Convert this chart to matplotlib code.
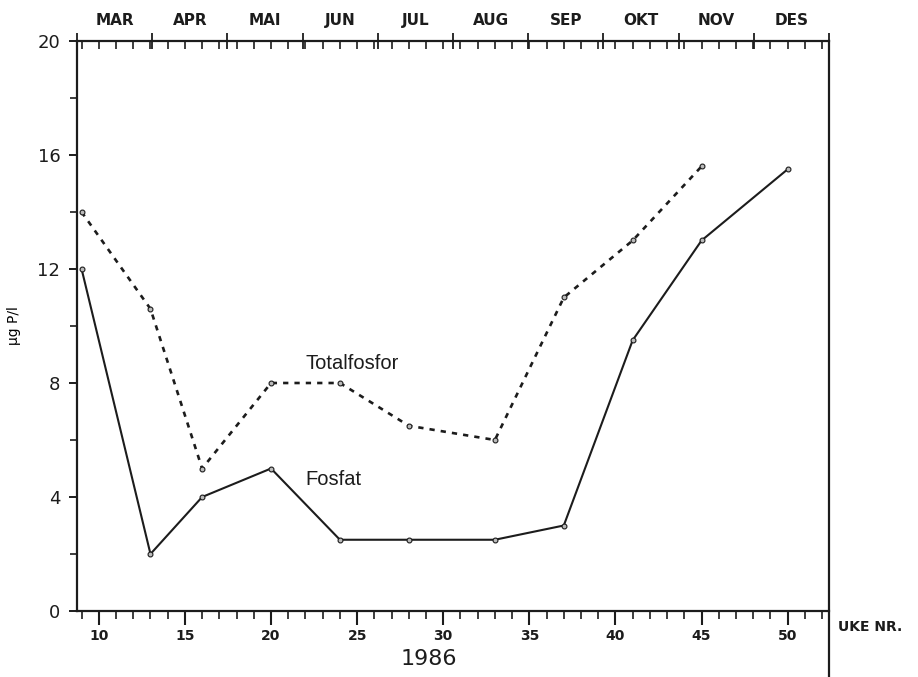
import matplotlib
matplotlib.use("Agg")
import matplotlib.pyplot as plt
from matplotlib.ticker import MultipleLocator, FixedLocator

# data (week number, ug P/l)
fosfat_uke = [9, 13, 16, 20, 24, 28, 33, 37, 41, 45, 50]
fosfat = [12, 2, 4, 5, 2.5, 2.5, 2.5, 3, 9.5, 13, 15.5]

totp_uke = [9, 13, 16, 20, 24, 28, 33, 37, 41, 45]
totp = [14, 10.6, 5, 8, 8, 6.5, 6, 11, 13, 15.6]

maaneder = ["MAR", "APR", "MAI", "JUN", "JUL", "AUG", "SEP", "OKT", "NOV", "DES"]
uker_per_mnd = 52.4 / 12.0

ink = "#1c1c1c"

fig = plt.figure(figsize=(9.18, 6.77), dpi=100, facecolor="white")
ax = fig.add_axes([77 / 918, 1 - 611 / 677, 752 / 918, 570 / 677])

ax.plot(fosfat_uke, fosfat, color=ink, lw=1.5, marker="o", ms=3.5,
        mfc="#bbbbbb", mec=ink, mew=0.8)
ax.plot(totp_uke, totp, color=ink, lw=1.9, ls=(0, (2.0, 2.3)), marker="o",
        ms=3.5, mfc="#bbbbbb", mec=ink, mew=0.8)

xmin = 2 * uker_per_mnd
xmax = 12 * uker_per_mnd
ax.set_xlim(xmin, xmax)
ax.set_ylim(0, 20)

for s in ["left", "bottom", "top"]:
    ax.spines[s].set_linewidth(1.6)
    ax.spines[s].set_color(ink)
ax.spines["right"].set_visible(False)
# right border runs down to the bottom edge of the page
ax.plot([1, 1], [1, -0.12], transform=ax.transAxes, color=ink, lw=1.6,
        clip_on=False)

# bottom axis: week numbers
ax.xaxis.set_major_locator(MultipleLocator(5))
ax.xaxis.set_minor_locator(MultipleLocator(1))
ax.tick_params(axis="x", which="major", direction="out", length=10, width=1.5,
               colors=ink, pad=3)
ax.tick_params(axis="x", which="minor", direction="out", length=6, width=1.2,
               colors=ink)
for lab in ax.get_xticklabels():
    lab.set_fontweight("bold")
    lab.set_fontsize(10)

# left axis
ax.yaxis.set_major_locator(MultipleLocator(4))
ax.yaxis.set_minor_locator(MultipleLocator(2))
ax.tick_params(axis="y", which="major", direction="out", length=6, width=1.4,
               colors=ink, labelsize=13, pad=6)
ax.tick_params(axis="y", which="minor", direction="out", length=5, width=1.2,
               colors=ink)
ax.set_ylabel("\u03bcg P/l", fontsize=10, labelpad=12)

# top axis: months
top = ax.twiny()
top.set_xlim(xmin, xmax)
grenser = [(i + 2) * uker_per_mnd for i in range(11)]
top.xaxis.set_major_locator(FixedLocator(grenser))
top.xaxis.set_minor_locator(MultipleLocator(1))
top.tick_params(axis="x", which="major", direction="inout", length=12,
                width=1.3, colors=ink, labeltop=False)
top.tick_params(axis="x", which="minor", direction="in", length=6, width=1.2,
                colors=ink)
top.set_xticklabels([])
for s in ["left", "bottom", "right", "top"]:
    top.spines[s].set_visible(False)
for i, m in enumerate(maaneder):
    xc = (grenser[i] + grenser[i + 1]) / 2
    ax.text(xc, 1.022, m, transform=ax.get_xaxis_transform(), ha="center",
            va="bottom", fontsize=11, fontweight="bold", color=ink)

ax.text(22.0, 8.7, "Totalfosfor", fontsize=14.5, family="Liberation Sans",
        color=ink, va="center", ha="left")
ax.text(22.0, 4.6, "Fosfat", fontsize=14.5, family="Liberation Sans",
        color=ink, va="center", ha="left")

ax.text(1.012, -0.015, "UKE NR.", transform=ax.transAxes, fontsize=10,
        fontweight="bold", color=ink, ha="left", va="top")
ax.text(0.468, -0.085, "1986", transform=ax.transAxes, fontsize=16,
        color=ink, ha="center", va="center")

fig.savefig("out.png", dpi=100, facecolor="white")
